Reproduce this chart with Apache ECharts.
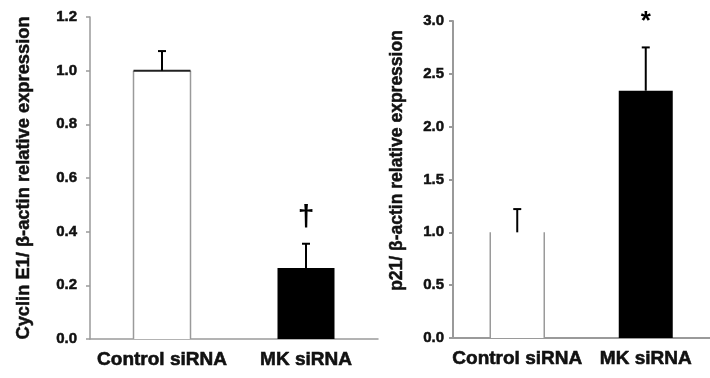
<!DOCTYPE html>
<html>
<head>
<meta charset="utf-8">
<script src="https://cdn.jsdelivr.net/npm/echarts@6/dist/echarts.min.js"></script>
<style>
  html, body { margin: 0; padding: 0; background: #fff; }
  #chart { width: 710px; height: 378px; }
</style>
</head>
<body>
<div id="chart"></div>
<script>
// data
const categories = ['Control siRNA', 'MK siRNA'];
const cyclinMean = [1.0, 0.265];
const cyclinErr = [0.073, 0.09];
const cyclinMarks = ['', '\u2020'];
const p21Mean = [1.0, 2.34];
const p21Err = [0.22, 0.41];
const p21Marks = ['', '*'];
const cyclinTicks = { min: 0, max: 1.2, interval: 0.2 };
const p21Ticks = { min: 0, max: 3.0, interval: 0.5 };

const FONT = '"Liberation Sans", Arial, sans-serif';
const AXIS_GREY = '#9a9a9a';
const INK = '#111';

const myChart = echarts.init(document.getElementById('chart'));

// white bar for control, black for MK
const barData = (vals) => vals.map((v, i) => ({
  value: v,
  itemStyle: { color: i === 0 ? '#ffffff' : '#000000' }
}));

// upper error bar + significance mark above it
const errRender = (markSize, marks) => function (params, api) {
  const i = api.value(0);
  const p0 = api.coord([i, api.value(1)]);
  const p1 = api.coord([i, api.value(2)]);
  const cap = 4;
  const children = [
    { type: 'line', shape: { x1: p0[0], y1: p0[1], x2: p1[0], y2: p1[1] }, style: { stroke: '#000', lineWidth: 2 } },
    { type: 'line', shape: { x1: p1[0] - cap, y1: p1[1], x2: p1[0] + cap, y2: p1[1] }, style: { stroke: '#000', lineWidth: 2 } }
  ];
  const m = marks[params.dataIndex];
  if (m) {
    children.push({
      type: 'text', x: p1[0], y: p1[1] - 26,
      style: { text: m, font: 'bold ' + markSize + 'px ' + FONT, fill: '#000', align: 'center', verticalAlign: 'middle' }
    });
  }
  return { type: 'group', children: children };
};

// outline of the white control bar (grey sides, optional dark top)
const outlineRender = (barW, topColor) => function (params, api) {
  const i = api.value(0);
  const top = api.coord([i, api.value(1)]);
  const base = api.coord([i, 0]);
  const xl = top[0] - barW / 2, xr = top[0] + barW / 2;
  const children = [
    { type: 'line', shape: { x1: xl, y1: base[1], x2: xl, y2: top[1] }, style: { stroke: AXIS_GREY, lineWidth: 1.5 } },
    { type: 'line', shape: { x1: xr, y1: base[1], x2: xr, y2: top[1] }, style: { stroke: AXIS_GREY, lineWidth: 1.5 } }
  ];
  if (topColor) {
    children.push({ type: 'line', shape: { x1: xl, y1: top[1], x2: xr, y2: top[1] }, style: { stroke: topColor, lineWidth: 2 } });
  }
  return { type: 'group', children: children };
};

const xAxisBase = (gridIndex, lw) => ({
  type: 'category',
  gridIndex: gridIndex,
  data: categories,
  axisLine: { lineStyle: { color: AXIS_GREY, width: lw } },
  axisTick: { show: false },
  axisLabel: {
    interval: 0, hideOverlap: false,
    color: INK, fontFamily: FONT, fontWeight: 'bold', fontSize: 19, margin: 11,
    textBorderColor: INK, textBorderWidth: 0.6
  }
});

const yAxisBase = (gridIndex, ticks, lw, name, nameSize, nameGap, padding, labelMargin) => ({
  type: 'value',
  gridIndex: gridIndex,
  min: ticks.min,
  max: ticks.max,
  interval: ticks.interval,
  name: name,
  nameLocation: 'middle',
  nameGap: nameGap,
  nameTextStyle: {
    color: INK, fontFamily: FONT, fontWeight: 'bold', fontSize: nameSize, padding: padding,
    textBorderColor: INK, textBorderWidth: 0.5
  },
  splitLine: { show: false },
  axisLine: { show: true, lineStyle: { color: AXIS_GREY, width: lw } },
  axisTick: { show: true, length: 4, lineStyle: { color: AXIS_GREY, width: lw } },
  axisLabel: {
    color: INK, fontFamily: FONT, fontWeight: 'bold', fontSize: 15, margin: labelMargin,
    textBorderColor: INK, textBorderWidth: 0.5,
    formatter: (v) => v.toFixed(1)
  }
});

const option = {
  animation: false,
  backgroundColor: '#fff',
  grid: [
    { left: 90, top: 17, width: 288, height: 322 },
    { left: 453, top: 21, width: 265, height: 317 }
  ],
  xAxis: [xAxisBase(0, 1.5), xAxisBase(1, 2)],
  yAxis: [
    yAxisBase(0, cyclinTicks, 1.5, 'Cyclin E1/ \u03b2-actin relative expression', 18.3, 57, [0, 0, 0, 0], 13),
    yAxisBase(1, p21Ticks, 2, 'p21/ \u03b2-actin relative expression', 17.5, 47, [0, 0, 0, 38], 9)
  ],
  series: [
    { type: 'bar', xAxisIndex: 0, yAxisIndex: 0, barWidth: 57, data: barData(cyclinMean), z: 2 },
    {
      type: 'custom', xAxisIndex: 0, yAxisIndex: 0, z: 3,
      renderItem: outlineRender(57, '#222'),
      data: [[0, cyclinMean[0]]]
    },
    {
      type: 'custom', xAxisIndex: 0, yAxisIndex: 0, z: 4,
      renderItem: errRender(30, cyclinMarks),
      data: cyclinMean.map((v, i) => [i, v, v + cyclinErr[i]])
    },
    { type: 'bar', xAxisIndex: 1, yAxisIndex: 1, barWidth: 54, data: barData(p21Mean), z: 2 },
    {
      type: 'custom', xAxisIndex: 1, yAxisIndex: 1, z: 3,
      renderItem: outlineRender(54, null),
      data: [[0, p21Mean[0]]]
    },
    {
      type: 'custom', xAxisIndex: 1, yAxisIndex: 1, z: 4,
      renderItem: errRender(26, p21Marks),
      data: p21Mean.map((v, i) => [i, v, v + p21Err[i]])
    }
  ]
};

myChart.setOption(option);
window.addEventListener('resize', function () {
  myChart.resize();
});
</script>
</body>
</html>
